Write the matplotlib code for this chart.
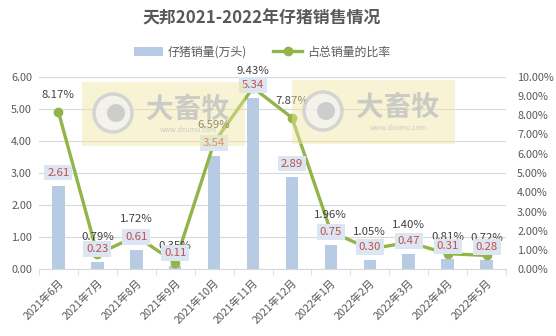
import matplotlib
matplotlib.use("Agg")
import matplotlib.pyplot as plt
from matplotlib.patches import Rectangle, Circle
from matplotlib.ticker import FuncFormatter, FixedLocator
import numpy as np

plt.rcParams['font.family'] = ['Noto Sans CJK SC', 'DejaVu Sans']

months = ["2021年6月", "2021年7月", "2021年8月", "2021年9月", "2021年10月", "2021年11月",
          "2021年12月", "2022年1月", "2022年2月", "2022年3月", "2022年4月", "2022年5月"]
sales = [2.61, 0.23, 0.61, 0.11, 3.54, 5.34, 2.89, 0.75, 0.30, 0.47, 0.31, 0.28]
share = [8.17, 0.79, 1.72, 0.35, 6.59, 9.43, 7.87, 1.96, 1.05, 1.40, 0.81, 0.72]

bar_color = "#B7CCE4"
line_color = "#92B54A"
text_gray = "#595959"

W, H = 556, 336
fig = plt.figure(figsize=(W / 100, H / 100), dpi=100)
fig.patch.set_facecolor("white")

ax = fig.add_axes([39 / W, (H - 269.3) / H, (506 - 39) / W, (269.3 - 76.7) / H])
ax2 = ax.twinx()

x = np.arange(len(months))
bars = ax.bar(x, sales, width=0.32, color=bar_color, zorder=2, label="仔猪销量(万头)")
line, = ax2.plot(x, np.array(share) / 100, color=line_color, lw=2.4, marker="o", ms=6,
                 zorder=3, label="占总销量的比率")

ax.set_xlim(-0.5, len(months) - 0.5)
ax.set_ylim(0, 6)
ax2.set_ylim(0, 0.10)
ax.set_yticks(np.arange(0, 6.01, 1))
ax.yaxis.set_major_formatter(FuncFormatter(lambda v, p: f"{v:.2f}"))
ax2.set_yticks(np.arange(0, 0.1001, 0.01))
ax2.yaxis.set_major_formatter(FuncFormatter(lambda v, p: f"{v * 100:.2f}%"))
ax.grid(axis="y", color="#D9D9D9", lw=0.8, zorder=0)
ax.set_axisbelow(True)

for a in (ax, ax2):
    for s in a.spines.values():
        s.set_visible(False)
    a.tick_params(axis="y", length=0, labelsize=7.8, labelcolor=text_gray)
ax.spines["bottom"].set_visible(True)
ax.spines["bottom"].set_color("#D9D9D9")
ax.tick_params(axis="y", pad=5)
ax2.tick_params(axis="y", pad=8)

ax.set_xticks(x)
ax.set_xticklabels(months, rotation=45, ha="right", rotation_mode="anchor",
                   fontsize=7.8, color=text_gray)
ax.tick_params(axis="x", which="major", length=0, pad=6)
ax.xaxis.set_minor_locator(FixedLocator(np.arange(-0.5, len(months), 1)))
ax.tick_params(axis="x", which="minor", length=4, color="#D9D9D9")

# ax2 is above ax; put labels on a top layer
ax.set_zorder(1)
ax2.set_zorder(2)
ax2.patch.set_visible(False)

for xi, v in zip(x, sales):
    ax2.annotate(f"{v:.2f}", xy=(xi, v / 60), xytext=(0, 13), textcoords="offset pixels",
                 ha="center", va="center", fontsize=8.2, color="#C0504D", zorder=5,
                 bbox=dict(boxstyle="square,pad=0.25", fc="#DCE6F2", ec="none"))
for xi, p in zip(x, share):
    ax2.annotate(f"{p:.2f}%", xy=(xi, p / 100), xytext=(0, 17), textcoords="offset pixels",
                 ha="center", va="center", fontsize=8.2, color="#404040", zorder=4)

fig.suptitle("天邦2021-2022年仔猪销售情况", x=262 / W, y=1 - 19 / H, va="center",
             fontsize=12.2, fontweight="bold", color=text_gray)

fig.legend(handles=[bars, line], loc="center", bbox_to_anchor=(262 / W, 1 - 52 / H),
           ncol=2, frameon=False, fontsize=8.6, labelcolor=text_gray,
           handlelength=2.4, columnspacing=2.2, handletextpad=0.4)

# watermarks
ov = fig.add_axes([0, 0, 1, 1], zorder=10)
ov.set_xlim(0, W)
ov.set_ylim(H, 0)
ov.axis("off")
for (rx, ry) in [(82, 82), (292, 80)]:
    ov.add_patch(Rectangle((rx, ry), 163, 64, fc="#EFE6A0", ec="none", alpha=0.45))
    cx, cy = rx + 31, ry + 31
    ov.add_patch(Circle((cx, cy), 19, fc="#F2F2F2", ec="#CDCDCD", lw=2.5, alpha=0.8))
    ov.add_patch(Circle((cx + 3, cy), 9, fc="#C4C4C4", ec="none", alpha=0.8))
    ov.text(rx + 106, ry + 28, "大畜牧", ha="center", va="center", fontsize=20,
            fontweight="bold", color="#C4C4C4", alpha=0.85)
    ov.text(rx + 106, ry + 48, "www.dxumu.com", ha="center", va="center", fontsize=5,
            color="#C4C4C4", alpha=0.85)

fig.savefig("out.png", dpi=100)
